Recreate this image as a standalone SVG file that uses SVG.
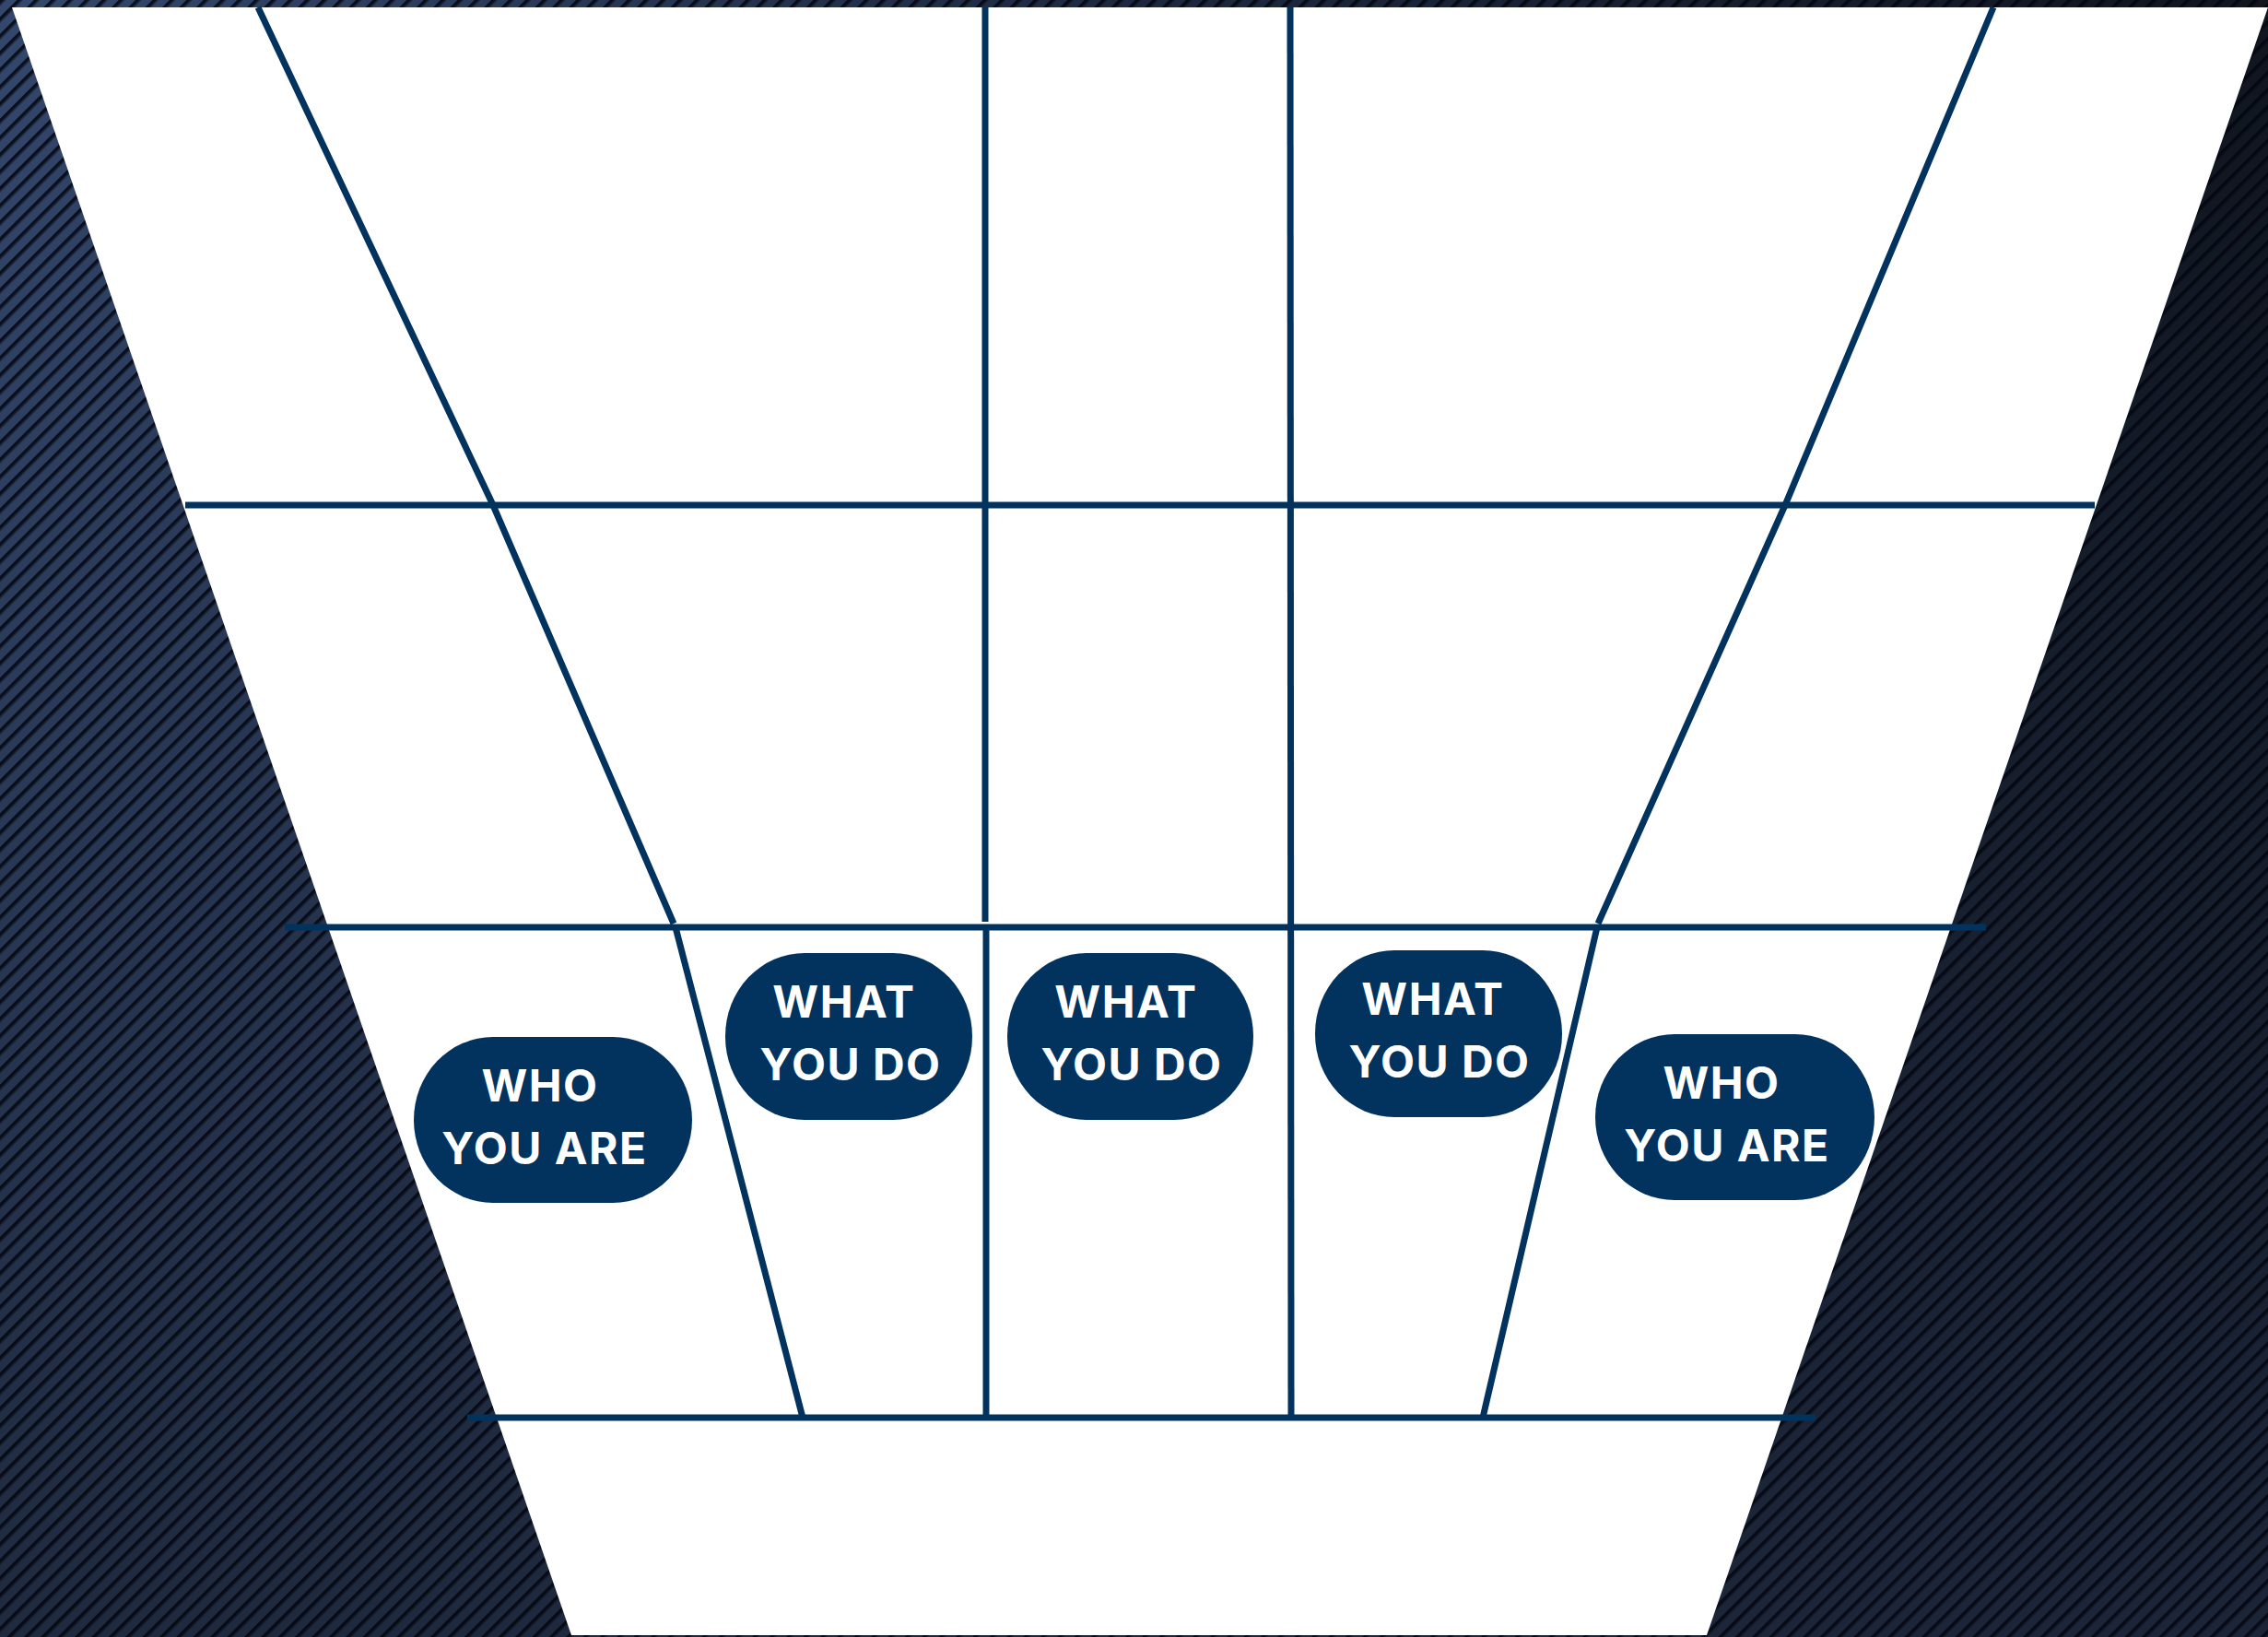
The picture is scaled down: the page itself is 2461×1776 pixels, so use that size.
<svg xmlns="http://www.w3.org/2000/svg" width="2461" height="1776" viewBox="0 0 2461 1776">
  <defs>
    <linearGradient id="bgH" x1="0" y1="0" x2="1" y2="0">
      <stop offset="0" stop-color="#34486d"/>
      <stop offset="0.5" stop-color="#1d2840"/>
      <stop offset="1" stop-color="#10151e"/>
    </linearGradient>
    <linearGradient id="bgV" x1="0" y1="0" x2="0" y2="1">
      <stop offset="0" stop-color="#1b2538" stop-opacity="0"/>
      <stop offset="1" stop-color="#1d273a" stop-opacity="0.9"/>
    </linearGradient>
    <pattern id="stripes" width="13" height="13" patternUnits="userSpaceOnUse" patternTransform="rotate(45)">
      <rect x="0" y="0" width="3.5" height="13" fill="#02060f" fill-opacity="0.85"/>
      <rect x="3.5" y="0" width="1.3" height="13" fill="#02060f" fill-opacity="0.35"/>
    </pattern>
    <style>
      .ln { stroke: #02335f; stroke-width: 7; fill: none; stroke-linecap: butt; }
      .pill { fill: #02335f; }
      .lbl { fill: #ffffff; font-family: Inter, "Noto Sans", "Liberation Sans", sans-serif; font-weight: 700; font-size: 48px; letter-spacing: 1.5px; text-anchor: middle; }
    </style>
  </defs>

  <g id="background">
    <rect x="0" y="0" width="2461" height="1776" fill="url(#bgH)"/>
    <rect x="0" y="0" width="2461" height="1776" fill="url(#bgV)"/>
    <rect x="0" y="0" width="2461" height="1776" fill="url(#stripes)"/>
  </g>

  <g id="funnel">
    <polygon points="13,8 2461,8 1852,1774 620,1774" fill="#ffffff"/>
  </g>

  <g id="connectors">
    <line class="ln" x1="201" y1="548" x2="2273" y2="548"/>
    <line class="ln" x1="309" y1="1006" x2="2155" y2="1006"/>
    <line class="ln" x1="507" y1="1538" x2="1970" y2="1538"/>

    <line class="ln" x1="1069" y1="8" x2="1069" y2="1000"/>
    <line class="ln" x1="1070" y1="1006" x2="1070" y2="1538"/>
    <line class="ln" x1="1400" y1="8" x2="1401" y2="1538"/>

    <polyline class="ln" points="280,8 535,548 731,1002"/>
    <line class="ln" x1="733" y1="1006" x2="871" y2="1538"/>

    <polyline class="ln" points="2163,8 1937,548 1734,1002"/>
    <line class="ln" x1="1733" y1="1006" x2="1609" y2="1538"/>
  </g>

  <g id="node-who-left">
    <rect class="pill" x="449" y="1125" width="302" height="180" rx="86" ry="90"/>
    <text class="lbl" x="586" y="1195">WHO</text>
    <text class="lbl" x="591" y="1263">YOU ARE</text>
  </g>

  <g id="node-what-1">
    <rect class="pill" x="787" y="1034" width="268" height="181" rx="86" ry="90"/>
    <text class="lbl" x="916" y="1104">WHAT</text>
    <text class="lbl" x="923" y="1172">YOU DO</text>
  </g>

  <g id="node-what-2">
    <rect class="pill" x="1093" y="1034" width="267" height="181" rx="86" ry="90"/>
    <text class="lbl" x="1222" y="1104">WHAT</text>
    <text class="lbl" x="1228" y="1172">YOU DO</text>
  </g>

  <g id="node-what-3">
    <rect class="pill" x="1427" y="1031" width="268" height="181" rx="86" ry="90"/>
    <text class="lbl" x="1555" y="1101">WHAT</text>
    <text class="lbl" x="1562" y="1169">YOU DO</text>
  </g>

  <g id="node-who-right">
    <rect class="pill" x="1731" y="1122" width="303" height="180" rx="86" ry="90"/>
    <text class="lbl" x="1868" y="1192">WHO</text>
    <text class="lbl" x="1874" y="1260">YOU ARE</text>
  </g>
</svg>
